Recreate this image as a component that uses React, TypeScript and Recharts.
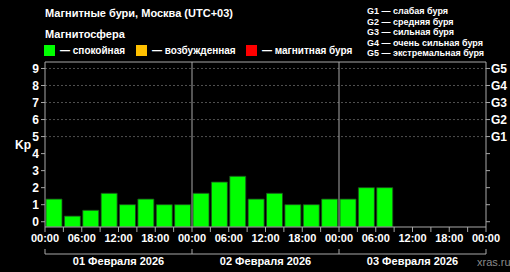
import {
  ComposedChart,
  Bar,
  XAxis,
  YAxis,
  ReferenceLine,
} from 'recharts';

const dayLabels = ['01 Февраля 2026', '02 Февраля 2026', '03 Февраля 2026'];
const kpDay1 = [1.33, 0.33, 0.67, 1.67, 1.0, 1.33, 1.0, 1.0];
const kpDay2 = [1.67, 2.33, 2.67, 1.33, 1.67, 1.0, 1.0, 1.33];
const kpDay3 = [1.33, 2.0, 2.0];
const timeLabels = ['00:00', '06:00', '12:00', '18:00'];
const kpTicks = [0, 1, 2, 3, 4, 5, 6, 7, 8, 9];
const stormLabels = ['G1', 'G2', 'G3', 'G4', 'G5'];
const stormNames = [
  'G1 — слабая буря',
  'G2 — средняя буря',
  'G3 — сильная буря',
  'G4 — очень сильная буря',
  'G5 — экстремальная буря',
];
const legendItems = [
  { color: '#00ff00', label: '— спокойная' },
  { color: '#ffc000', label: '— возбужденная' },
  { color: '#ff0000', label: '— магнитная буря' },
];

const FONT = '"Liberation Sans", Arial, sans-serif';
const AXIS = '#a8a8a8';
const Y_MIN = -0.31;
const Y_MAX = 9.38;

// 3-hour bins, x in hours from start of day 1
const data = [...kpDay1, ...kpDay2, ...kpDay3].map((kp, i) => ({
  x: i * 3 + 1.5,
  kp: [Y_MIN, kp],
}));

const hourTicks = Array.from({ length: 25 }, (_, i) => i * 3);
const dayTicks = [0, 12, 24, 36, 48, 60, 72];

function TimeTick(props: any) {
  const { x, y, payload } = props;
  const h = payload.value;
  if (h % 6 !== 0) return null;
  return (
    <text x={x} y={y} dy="0.71em" textAnchor="middle" fill="#fff"
      fontSize={11} fontWeight="bold" fontFamily={FONT}>
      {timeLabels[(h % 24) / 6]}
    </text>
  );
}

function DayTick(props: any) {
  const { x, y, payload } = props;
  const h = payload.value;
  if (h % 24 === 0) {
    return <line x1={x} y1={y - 5} x2={x} y2={y} stroke={AXIS} strokeWidth={1} />;
  }
  return (
    <text x={x} y={y + 3} dy="0.71em" textAnchor="middle" fill="#fff"
      fontSize={11} fontWeight="bold" fontFamily={FONT}>
      {dayLabels[Math.floor(h / 24)]}
    </text>
  );
}

export default function App() {
  const txt = { position: 'absolute' as const, color: '#fff', fontFamily: FONT, fontWeight: 'bold' as const, whiteSpace: 'nowrap' as const };
  return (
    <div style={{ position: 'relative', width: 510, height: 272, background: '#000', overflow: 'hidden' }}>
      <style>{'body{margin:0;background:#000}'}</style>
      <ComposedChart width={510} height={272} data={data}
        margin={{ top: 62, right: 0, bottom: 0, left: 0 }}>
        {[5, 6, 7, 8, 9].map((v) => (
          <ReferenceLine key={v} y={v} yAxisId="kp" xAxisId="a1" stroke="#505050" strokeDasharray="2 2" />
        ))}
        <XAxis xAxisId="b2" dataKey="x" type="number" domain={[0, 72]} ticks={dayTicks}
          height={18} tickSize={0} tickMargin={0} tickLine={false} stroke={AXIS}
          tick={<DayTick />} interval={0} allowDataOverflow />
        <XAxis xAxisId="a1" dataKey="x" type="number" domain={[0, 72]} ticks={hourTicks}
          height={27} tickSize={5} tickMargin={2} stroke={AXIS} tick={<TimeTick />}
          interval={0} allowDataOverflow />
        <YAxis yAxisId="kp" orientation="left" width={45} type="number"
          domain={[Y_MIN, Y_MAX]} ticks={kpTicks} interval={0} allowDataOverflow
          stroke={AXIS} tickSize={4} tickMargin={2}
          tick={{ fill: '#fff', fontSize: 12, fontWeight: 'bold', fontFamily: FONT }} />
        <YAxis yAxisId="g" orientation="right" width={24} type="number"
          domain={[Y_MIN, Y_MAX]} ticks={kpTicks} interval={0} allowDataOverflow
          stroke={AXIS} tickSize={4} tickMargin={1}
          tickFormatter={(v: number) => (v >= 5 ? stormLabels[v - 5] : '')}
          tick={{ fill: '#fff', fontSize: 12, fontWeight: 'bold', fontFamily: FONT }} />
        <ReferenceLine y={Y_MAX} yAxisId="kp" xAxisId="a1" stroke={AXIS} />
        <ReferenceLine x={24} yAxisId="kp" xAxisId="a1" stroke={AXIS} />
        <ReferenceLine x={48} yAxisId="kp" xAxisId="a1" stroke={AXIS} />
        <Bar dataKey="kp" xAxisId="a1" yAxisId="kp" fill="#00ff00" stroke="#1f4a1f"
          strokeWidth={0.8} barSize={16} isAnimationActive={false} />
      </ComposedChart>

      <div style={{ ...txt, left: 45, top: 7, fontSize: 11 }}>Магнитные бури, Москва (UTC+03)</div>
      <div style={{ ...txt, left: 45, top: 28, fontSize: 11 }}>Магнитосфера</div>
      {legendItems.map((it, i) => (
        <div key={it.label} style={{ ...txt, left: [44, 136, 246][i], top: 45, fontSize: 10, display: 'flex', alignItems: 'center' }}>
          <span style={{ display: 'inline-block', width: 11, height: 11, background: it.color, marginRight: 5 }} />
          {it.label}
        </div>
      ))}
      {stormNames.map((s, i) => (
        <div key={s} style={{ ...txt, left: 367, top: 5 + i * 10.6, fontSize: 9, lineHeight: '12px' }}>{s}</div>
      ))}
      <div style={{ ...txt, left: 15, top: 138, fontSize: 12 }}>Kp</div>
      <div style={{ ...txt, left: 477, top: 256, fontSize: 11, fontWeight: 'normal', color: '#8a8a8a' }}>xras.ru</div>
    </div>
  );
}
